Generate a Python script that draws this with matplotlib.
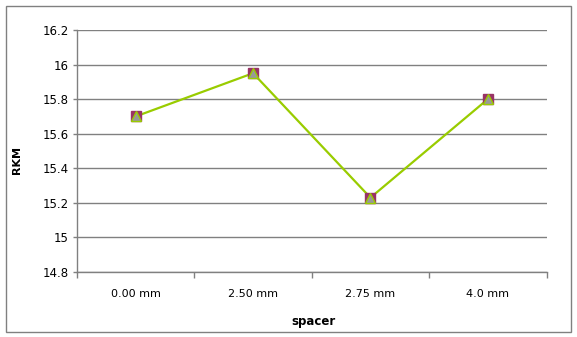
import matplotlib
matplotlib.use("Agg")
import matplotlib.pyplot as plt
from matplotlib.patches import Rectangle
from matplotlib.ticker import FixedLocator, NullFormatter

categories = ["0.00 mm", "2.50 mm", "2.75 mm", "4.0 mm"]
rkm = [15.70, 15.95, 15.23, 15.80]
yticks = [14.8, 15.0, 15.2, 15.4, 15.6, 15.8, 16.0, 16.2]
ytick_labels = ["14.8", "15", "15.2", "15.4", "15.6", "15.8", "16", "16.2"]

W, H = 577, 337
fig = plt.figure(figsize=(W / 100, H / 100), dpi=100)
fig.patch.set_facecolor("white")

# outer chart border
fig.patches.append(Rectangle((5.5 / W, 5.5 / H), 565 / W, 326 / H,
                             transform=fig.transFigure, fill=False,
                             edgecolor="#808080", linewidth=1.0))

ax = fig.add_axes([77 / W, 1 - 272 / H, (546.5 - 77) / W, (272 - 30) / H])
x = list(range(len(categories)))
grid_c = "#808080"

ax.plot(x, rkm, color="#99CC00", linewidth=1.6, zorder=3)
ax.plot(x, rkm, linestyle="none", marker="s", markersize=6.5,
        markerfacecolor="#993366", markeredgecolor="#993366", zorder=4)
ax.plot(x, rkm, linestyle="none", marker="^", markersize=7,
        markerfacecolor="#999999", markeredgecolor="#99CC00",
        markeredgewidth=1.0, zorder=5)

ax.set_xlim(-0.5, len(categories) - 0.5)
ax.set_ylim(14.8, 16.2)
ax.set_yticks(yticks)
ax.set_yticklabels(ytick_labels, fontsize=8.5, color="#000000")
ax.yaxis.grid(True, color=grid_c, linewidth=1.0)
ax.set_axisbelow(True)

ax.set_xticks(x)
ax.set_xticklabels(categories, fontsize=8)
ax.xaxis.set_minor_locator(FixedLocator([i - 0.5 for i in range(len(categories) + 1)]))
ax.xaxis.set_minor_formatter(NullFormatter())
ax.tick_params(axis="x", which="major", length=0, pad=12)
ax.tick_params(axis="x", which="minor", length=4, color=grid_c, width=1.0)
ax.tick_params(axis="y", length=3, color=grid_c, width=1.0, pad=3)

for s in ["top", "right"]:
    ax.spines[s].set_visible(False)
for s in ["left", "bottom"]:
    ax.spines[s].set_color(grid_c)
    ax.spines[s].set_linewidth(1.0)

fig.text(313 / W, 1 - 321 / H, "spacer", fontsize=8.5, fontweight="bold",
         ha="center", va="center")
fig.text(17 / W, 1 - 160 / H, "RKM", fontsize=8, fontweight="bold",
         ha="center", va="center", rotation=90)

fig.savefig("out.png", dpi=100)
